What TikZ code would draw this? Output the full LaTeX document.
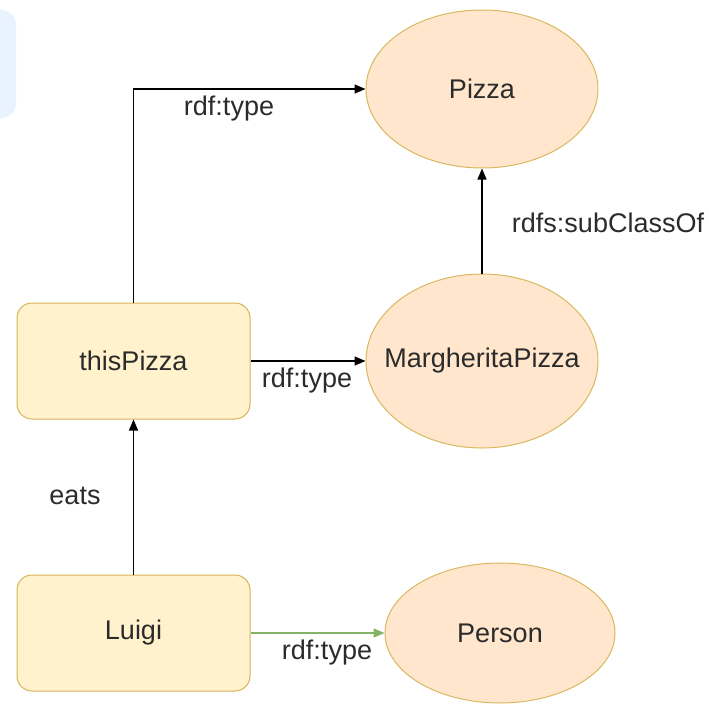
\documentclass[tikz,border=0pt]{standalone}
\usepackage{fontspec}
\setmainfont{Liberation Sans}
\usetikzlibrary{shapes.geometric,arrows.meta}
\definecolor{rectfill}{HTML}{FFF2CC}
\definecolor{rectdraw}{HTML}{D6B656}
\definecolor{ellfill}{HTML}{FFE6CC}
\definecolor{elldraw}{HTML}{D9B860}
\definecolor{txt}{HTML}{2B2B2B}
\definecolor{bluebg}{HTML}{E8F3FF}
\definecolor{greenline}{HTML}{82B366}
\tikzset{
  txtstyle/.style={font=\fontsize{27}{32}\selectfont, text=txt},
  resbox/.style={draw=rectdraw, fill=rectfill, line width=1pt, rounded corners=15pt,
    minimum width=233pt, minimum height=116pt, inner sep=0pt, txtstyle},
  classell/.style={ellipse, draw=elldraw, fill=ellfill, line width=1pt, inner sep=0pt},
  edgelabel/.style={txtstyle},
  conn/.style={line width=1.3pt, -{Triangle[length=11pt,width=9pt]}},
}
\begin{document}
\begin{tikzpicture}[x=1pt,y=-1pt]
\useasboundingbox (0,0) rectangle (709,709);
\begin{scope}
\clip (0,0) rectangle (709,709);
\fill[bluebg, rounded corners=15pt] (-40,10) rectangle (16,118);
\end{scope}
% nodes
\node[resbox] (thisPizza) at (133.5,361) {thisPizza};
\node[resbox] (luigi) at (133.5,633) {Luigi};
\node[classell, minimum width=232pt, minimum height=158pt, label={[txtstyle]center:Pizza}] (pizza) at (482,89) {};
\node[classell, minimum width=232pt, minimum height=174pt, label={[txtstyle]center:MargheritaPizza}] (marg) at (482,361) {};
\node[classell, minimum width=230pt, minimum height=140pt, label={[txtstyle]center:Person}] (person) at (500,633) {};
% connectors
\draw[conn] (thisPizza.north) |- (pizza.west);
\draw[conn] (thisPizza.east) -- (marg.west);
\draw[conn] (marg.north) -- (pizza.south);
\draw[conn] (luigi.north) -- (thisPizza.south);
\draw[conn, draw=greenline, -{Triangle[length=11pt,width=9pt,fill=greenline]}] (luigi.east) -- (person.west);
% labels
\node[edgelabel] (l1) at (229,109) {rdf:type};
\node[edgelabel] (l2) at (307,381) {rdf:type};
\node[edgelabel] (l3) at (608,223) {rdfs:subClassOf};
\node[edgelabel] (l4) at (75,496) {eats};
\node[edgelabel] (l5) at (327,653) {rdf:type};
\end{tikzpicture}
\end{document}
